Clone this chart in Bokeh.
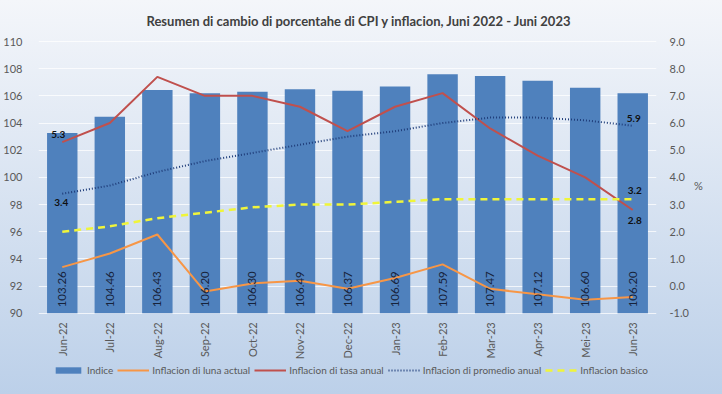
import math
from bokeh.plotting import figure
from bokeh.models import (Range1d, LinearAxis, Legend, LegendItem, FactorRange,
                          NumeralTickFormatter, FixedTicker)
from bokeh.core.properties import value
from bokeh.embed import file_html
from bokeh.resources import INLINE

months = ["Jun-22", "Jul-22", "Aug-22", "Sep-22", "Oct-22", "Nov-22", "Dec-22",
          "Jan-23", "Feb-23", "Mar-23", "Apr-23", "Mei-23", "Jun-23"]
indice = [103.26, 104.46, 106.43, 106.20, 106.30, 106.49, 106.37,
          106.69, 107.59, 107.47, 107.12, 106.60, 106.20]
luna_actual = [0.7, 1.2, 1.9, -0.2, 0.1, 0.2, -0.1, 0.3, 0.8, -0.1, -0.3, -0.5, -0.4]
tasa_anual = [5.3, 6.0, 7.7, 7.0, 7.0, 6.6, 5.7, 6.6, 7.1, 5.8, 4.8, 4.0, 2.8]
promedio_anual = [3.4, 3.7, 4.2, 4.6, 4.9, 5.2, 5.5, 5.7, 6.0, 6.2, 6.2, 6.1, 5.9]
basico = [2.0, 2.2, 2.5, 2.7, 2.9, 3.0, 3.0, 3.1, 3.2, 3.2, 3.2, 3.2, 3.2]
left_ticks = [90, 92, 94, 96, 98, 100, 102, 104, 106, 108, 110]
right_ticks = [-1, 0, 1, 2, 3, 4, 5, 6, 7, 8, 9]
series_names = ["Indice", "Inflacion di luna actual", "Inflacion di tasa anual",
                "Inflacion di promedio anual", "Inflacion basico"]

FONT = "Lato"
GRAY = "#595959"
C_BAR, C_ORANGE, C_RED, C_DOT, C_YEL = "#4f81bd", "#f79646", "#c0504d", "#1f3d7a", "#f0f53a"

# The frame reaches below the value axis (room for category labels + legend).
# Layout (page px): frame 39..378, value axis 110 at 42 and 90 at 313.
FR_TOP, FR_BOT, AX_TOP, AX_BOT = 39, 378, 42, 313
PX_L = (AX_BOT - AX_TOP) / 20.0   # px per index unit
PX_R = (AX_BOT - AX_TOP) / 10.0   # px per percent unit
y_left = Range1d(90 - (FR_BOT - AX_BOT) / PX_L, 110 + (AX_TOP - FR_TOP) / PX_L)
y_right = Range1d(-1 - (FR_BOT - AX_BOT) / PX_R, 9 + (AX_TOP - FR_TOP) / PX_R)

p = figure(x_range=FactorRange(*months), y_range=y_left,
           width=706, height=378, output_backend="svg", toolbar_location=None,
           x_axis_location=None,
           min_border_left=29, min_border_right=50, min_border_top=34,
           min_border_bottom=0)
p.background_fill_color = None
p.border_fill_color = None
p.outline_line_color = None

p.title.text = "Resumen di cambio di porcentahe di CPI y inflacion, Juni 2022 - Juni 2023"
p.title.align = "left"
p.title.offset = 108
p.title.standoff = 20
p.title.text_font = FONT
p.title.text_font_size = "13px"
p.title.text_font_style = "bold"
p.title.text_color = "#404040"

p.extra_y_ranges = {"pct": y_right}

# grid
p.xgrid.grid_line_color = None
p.ygrid.grid_line_color = "#ffffff"
p.ygrid.grid_line_alpha = 0.75
p.ygrid.ticker = FixedTicker(ticks=left_ticks)

# left axis
p.yaxis.ticker = FixedTicker(ticks=left_ticks)
p.yaxis.axis_line_color = None
p.yaxis.major_tick_line_color = None
p.yaxis.minor_tick_line_color = None
p.yaxis.major_label_text_font = FONT
p.yaxis.major_label_text_font_size = "11px"
p.yaxis.major_label_text_color = GRAY
p.yaxis.major_label_standoff = 10

# right axis
ra = LinearAxis(y_range_name="pct", ticker=FixedTicker(ticks=right_ticks),
                formatter=NumeralTickFormatter(format="0.0"),
                axis_label="%\n \n \n ")
ra.axis_line_color = None
ra.major_tick_line_color = None
ra.minor_tick_line_color = None
ra.major_label_text_font = FONT
ra.major_label_text_font_size = "11px"
ra.major_label_text_color = GRAY
ra.major_label_standoff = 7
ra.axis_label_orientation = "horizontal"
ra.axis_label_text_font = FONT
ra.axis_label_text_font_size = "11px"
ra.axis_label_text_font_style = "normal"
ra.axis_label_text_color = GRAY
ra.axis_label_standoff = 2
p.add_layout(ra, "right")

bars = p.vbar(x=months, top=indice, bottom=90, width=0.64, fill_color=C_BAR, line_color=None)
l1 = p.line(months, luna_actual, y_range_name="pct", line_color=C_ORANGE, line_width=2)
l2 = p.line(months, tasa_anual, y_range_name="pct", line_color=C_RED, line_width=2)
l3 = p.line(months, promedio_anual, y_range_name="pct", line_color=C_DOT,
            line_width=2, line_dash="1 2")
l4 = p.line(months, basico, y_range_name="pct", line_color=C_YEL,
            line_width=2.5, line_dash="7 5")

# category labels below the baseline
p.text(x=months, y=[90] * len(months), text=months,
       angle=math.pi / 2, text_align="right", text_baseline="middle",
       y_offset=9, text_font=value(FONT), text_font_size="11px",
       text_color=GRAY)

# bar value labels
p.text(x=months, y=[90] * len(months), text=[f"{v:.2f}" for v in indice],
       angle=math.pi / 2, text_align="left", text_baseline="middle",
       y_offset=-6, text_font=value(FONT), text_font_size="11.5px",
       text_color="#17233b")

# end-point labels
lab_kw = dict(text_font=value(FONT), text_font_size="10px", text_font_style="bold",
              text_color="#101010", text_align="center", text_baseline="middle",
              y_range_name="pct")
p.text(x=[months[0]], y=[tasa_anual[0]], text=[f"{tasa_anual[0]:.1f}"],
       x_offset=-4, y_offset=-8, **lab_kw)
p.text(x=[months[0]], y=[promedio_anual[0]], text=[f"{promedio_anual[0]:.1f}"],
       x_offset=-1, y_offset=9, **lab_kw)
p.text(x=[months[-1]], y=[promedio_anual[-1]], text=[f"{promedio_anual[-1]:.1f}"],
       x_offset=1, y_offset=-7, **lab_kw)
p.text(x=[months[-1]], y=[basico[-1]], text=[f"{basico[-1]:.1f}"],
       x_offset=2, y_offset=-9, **lab_kw)
p.text(x=[months[-1]], y=[tasa_anual[-1]], text=[f"{tasa_anual[-1]:.1f}"],
       x_offset=2, y_offset=10, **lab_kw)

legend = Legend(items=[LegendItem(label=n, renderers=[r])
                       for n, r in zip(series_names, [bars, l1, l2, l3, l4])],
                orientation="horizontal", location=(12, 0))
legend.label_text_font = FONT
legend.label_text_font_size = "10px"
legend.label_text_color = GRAY
legend.label_height = 12
legend.glyph_width = 32
legend.glyph_height = 8
legend.spacing = 4
legend.label_standoff = 3
legend.padding = 2
legend.margin = 0
legend.background_fill_alpha = 0
legend.border_line_alpha = 0
p.add_layout(legend)

html = file_html(p, INLINE)
html = html.replace("</head>",
                    "<style>html{min-height:100%;background:linear-gradient(to bottom,#f4f6fa,#bcd0e9);}"
                    "body{background:transparent;}</style></head>", 1)
open("out.html", "w").write(html)
